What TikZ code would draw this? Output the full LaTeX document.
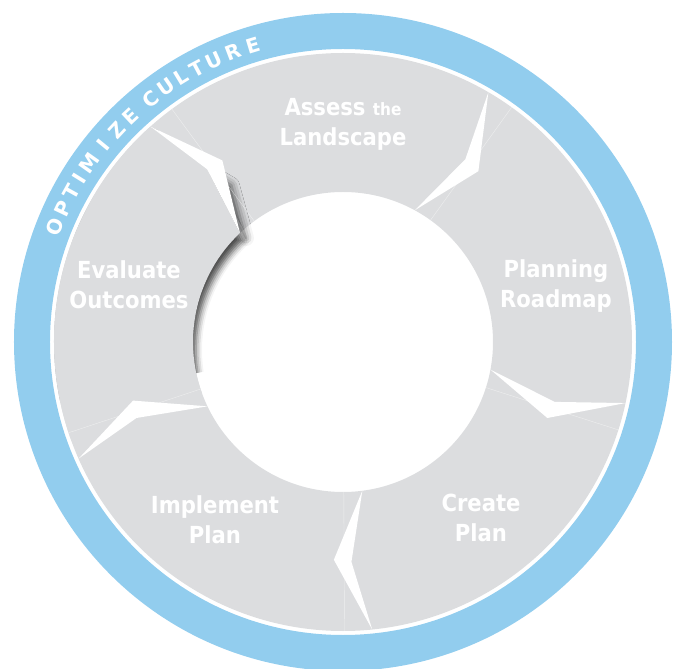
\documentclass[tikz,border=0pt]{standalone}
\usepackage{fontspec}
\usetikzlibrary{shadows.blur}
\newfontfamily\stagefont{DejaVu Sans Condensed Bold}
\newfontfamily\ringfont{DejaVu Sans Bold}
\definecolor{ringblue}{RGB}{146,205,238}
\definecolor{stagegray}{RGB}{220,221,223}

\tikzset{
  stage/.style={text=white, align=center, font=\stagefont\fontsize{23.5}{30}\selectfont},
  notch/.style={fill=white},
  seam/.style={white, opacity=.5, line width=.4pt},
  ringletter/.style={text=white, inner sep=0pt, font=\ringfont\fontsize{20}{20}\selectfont},
}

\begin{document}
\begin{tikzpicture}[x=1pt,y=1pt]
  \useasboundingbox (-343,-327) rectangle (337,342);
  \clip (-343,-327) rectangle (337,342);

  % blue band and grey ring
  \fill[ringblue, even odd rule] (0,0) circle[radius=329pt] (0,0) circle[radius=293pt];
  \fill[stagegray, even odd rule] (0,0) circle[radius=289pt] (0,0) circle[radius=150pt];

  % shadows of the lifted corner
  \begin{scope}
    \clip (0,0) -- (95:289pt) arc[start angle=95, end angle=192, radius=289pt] -- cycle;
    \path[blur shadow={shadow xshift=6pt, shadow yshift=-5pt, shadow blur radius=8pt, shadow opacity=65}]
      (126:200pt) -- (133.4:150pt) -- (128.2:220pt) -- cycle;
    \path[blur shadow={shadow xshift=3pt, shadow yshift=-8pt, shadow blur radius=6pt, shadow opacity=70}]
      (131.8:289pt) -- (128.2:220pt) -- (133.4:150pt)
      arc[start angle=133.4, end angle=200, radius=150pt]
      -- (200:289pt) arc[start angle=200, end angle=131.8, radius=289pt] -- cycle;
  \end{scope}
  \fill[stagegray] (131.8:289pt) -- (128.2:220pt) -- (133.4:150pt)
    arc[start angle=133.4, end angle=200, radius=150pt]
    -- (200:289pt) arc[start angle=200, end angle=131.8, radius=289pt] -- cycle;

  % seams between the pieces
  \foreach \k in {0,...,4} {
    \pgfmathsetmacro\th{126.3-72*\k}
    \draw[seam] (\th:150pt) -- (\th:289pt);
  }

  % white arrow notches
  \foreach \k in {0,...,4} {
    \pgfmathsetmacro\th{131.8-72*\k}
    \fill[notch] (\th:289pt) -- ({\th-8.2}:218pt) -- ({\th+1.6}:150pt) -- ({\th-3.6}:220pt) -- cycle;
  }

  % stage labels
  \node[stage] (assess) at (0,218) {Assess {\fontsize{17}{30}\selectfont the}\\Landscape};
  \node[stage] (planning) at (213,56) {Planning\\Roadmap};
  \node[stage] (create) at (138,-176) {Create\\Plan};
  \node[stage] (implement) at (-128,-178) {Implement\\Plan};
  \node[stage] (evaluate) at (-214,57) {Evaluate\\Outcomes};

  % lettering on the blue band
  \foreach \ch/\ang [count=\i] in {O/158.2, P/154.5, T/151.1, I/148.2, M/144.8, I/140.6, Z/136.8, E/133.2,
      C/128.4, U/124.7, L/121.4, T/118.1, U/114.6, R/110.8, E/106.9}
    \node[ringletter, rotate=\ang-90] (letter\i) at (\ang:310pt) {\ch};
\end{tikzpicture}
\end{document}
